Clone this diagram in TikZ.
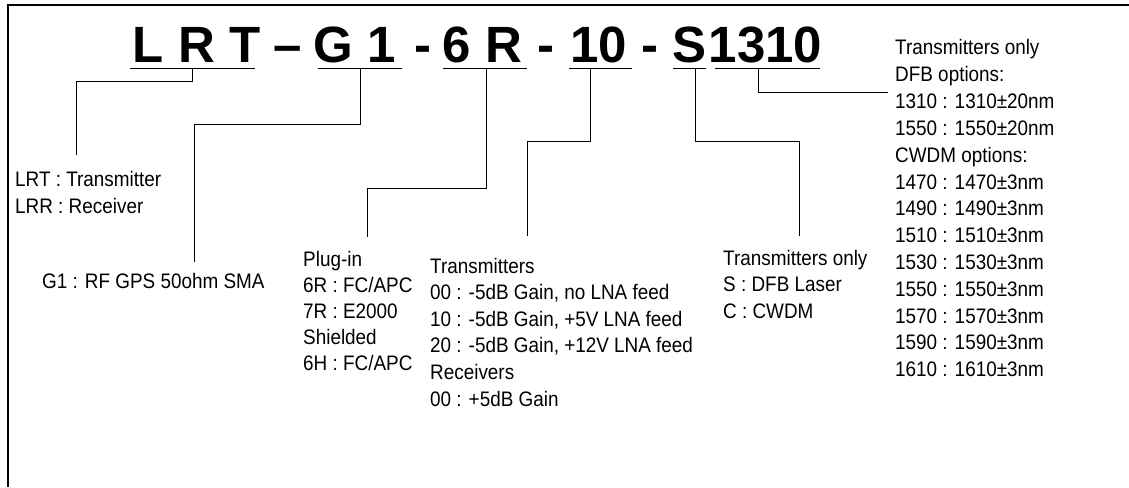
\documentclass[tikz,border=0pt]{standalone}
\usepackage{fontspec}
\setmainfont{Liberation Sans}
\newfontfamily\narrowsans[FakeStretch=0.9]{Liberation Sans}
\begin{document}
\begin{tikzpicture}[x=1pt,y=-1pt,
  lbl/.style={anchor=base west, inner sep=0pt, font=\narrowsans\fontsize{21}{25}\selectfont},
  ttl/.style={anchor=base, inner sep=0pt, font=\fontsize{51}{60}\selectfont\bfseries},
  uline/.style={line width=1.4pt},
  conn/.style={line width=1pt},
  frame/.style={line width=2.2pt}]
\useasboundingbox (0,0) rectangle (1129,487);
% frame
\draw[frame] (8,487) -- (8,5) -- (1129,5);
% title
\node[ttl] (tLRT) at (196.5,63) {L R T};
\node[ttl] (tD1) at (288,63) {–};
\node[ttl] (tG1) at (355,63) {G 1};
\node[ttl] (tD2) at (422.5,63) {-};
\node[ttl] (t6R) at (482.5,63) {6 R};
\node[ttl] (tD3) at (545.5,63) {-};
\node[ttl] (t10) at (598.5,63) {10};
\node[ttl] (tD4) at (649.5,63) {-};
\node[ttl] (tS) at (689,63) {S};
\node[ttl] (t1310) at (765.5,63) {1310};
% underlines
\draw[uline] (130,68.5) -- (255,68.5);
\draw[uline] (318,68.5) -- (402,68.5);
\draw[uline] (443,68.5) -- (527,68.5);
\draw[uline] (569,68.5) -- (632,68.5);
\draw[uline] (673,68.5) -- (706,68.5);
\draw[uline] (715,68.5) -- (820,68.5);
% connector coordinates
\coordinate (aLRT) at (192,68.5);  \coordinate (bLRT) at (76,81);   \coordinate (eLRT) at (76,155);
\coordinate (aG1)  at (360,68.5);  \coordinate (bG1)  at (194,124); \coordinate (eG1)  at (194,262);
\coordinate (a6R)  at (486,68.5);  \coordinate (b6R)  at (367,188); \coordinate (e6R)  at (367,237);
\coordinate (a10)  at (590,68.5);  \coordinate (b10)  at (527,141); \coordinate (e10)  at (527,236);
\coordinate (aS)   at (695,68.5);  \coordinate (bS)   at (799,141); \coordinate (eS)   at (799,236);
\coordinate (a1310) at (758,68.5); \coordinate (e1310) at (888,92);
\draw[conn] (aLRT) |- (bLRT) -- (eLRT);
\draw[conn] (aG1) |- (bG1) -- (eG1);
\draw[conn] (a6R) |- (b6R) -- (e6R);
\draw[conn] (a10) |- (b10) -- (e10);
\draw[conn] (aS) |- (bS) -- (eS);
\draw[conn] (a1310) |- (e1310);
% descriptions
\foreach \t [count=\i from 0] in {{LRT : Transmitter},{LRR : Receiver}}
  \node[lbl] (dLRT\i) at (15,186+\i*27) {\t};
\node[lbl] (dG1) at (42,288) {G1 : RF GPS 50ohm SMA};
\foreach \t [count=\i from 0] in {{Plug-in},{6R : FC/APC},{7R : E2000},{Shielded},{6H : FC/APC}}
  \node[lbl] (d6R\i) at (303,266+\i*26.2) {\t};
\foreach \t [count=\i from 0] in {{Transmitters},{00 : -5dB Gain, no LNA feed},{10 : -5dB Gain, +5V LNA feed},{20 : -5dB Gain, +12V LNA feed},{Receivers},{00 : +5dB Gain}}
  \node[lbl] (d10\i) at (430,273+\i*26.6) {\t};
\foreach \t [count=\i from 0] in {{Transmitters only},{S : DFB Laser},{C : CWDM}}
  \node[lbl] (dS\i) at (723,265+\i*26.6) {\t};
\foreach \t [count=\i from 0] in {{Transmitters only},{DFB options:},{1310 : 1310±20nm},{1550 : 1550±20nm},{CWDM options:},{1470 : 1470±3nm},{1490 : 1490±3nm},{1510 : 1510±3nm},{1530 : 1530±3nm},{1550 : 1550±3nm},{1570 : 1570±3nm},{1590 : 1590±3nm},{1610 : 1610±3nm}}
  \node[lbl] (d1310\i) at (895,55+\i*26.8) {\t};
\end{tikzpicture}
\end{document}
